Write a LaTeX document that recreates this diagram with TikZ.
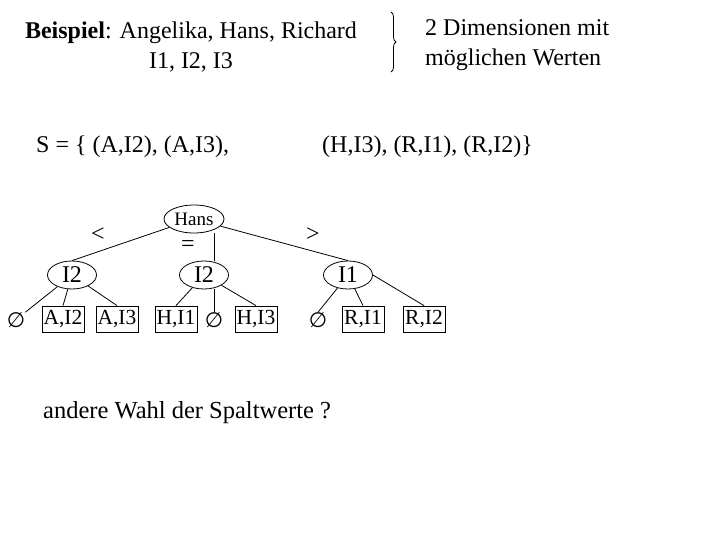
\documentclass[tikz,border=0pt]{standalone}
\usepackage{fontspec}
\setmainfont{Liberation Serif}
\newfontfamily\symfont{DejaVu Sans}
\usetikzlibrary{shapes.geometric,decorations.pathreplacing}
\begin{document}
\begin{tikzpicture}[x=1pt,y=-1pt,
  every node/.style={font=\fontsize{24}{30}\selectfont},
  inner/.style={ellipse,draw,line width=0.8pt,inner sep=0pt,minimum width=49pt,minimum height=28pt,font=\fontsize{24}{28}\selectfont},
  leaf/.style={draw,line width=0.8pt,rectangle,inner sep=0pt,minimum width=42pt,minimum height=26pt,font=\fontsize{21.5}{24}\selectfont},
  empty/.style={inner sep=0pt,font=\fontsize{21}{24}\symfont},
  edge/.style={draw,line width=0.8pt}]
\useasboundingbox (0,0) rectangle (720,540);
\node[align=center] (title) at (191,47) {\textbf{Beispiel}: Angelika, Hans, Richard\\I1, I2, I3};
\draw[line width=0.8pt,decorate,decoration={brace,amplitude=5pt}] (391,12) -- (391,72);
\node[anchor=west,align=left,inner sep=0pt] (dims) at (425,45) {2 Dimensionen mit\\möglichen Werten};
\node[anchor=west,inner sep=0pt] (sleft) at (36,147) {S = \{ (A,I2), (A,I3),};
\node[anchor=west,inner sep=0pt] (sright) at (322,147) {(H,I3), (R,I1), (R,I2)\}};
\node[inner,minimum width=60pt,font=\fontsize{19}{22}\selectfont] (hans) at (194,219) {Hans};
\node[inner] (a) at (72,275) {I2};
\node[inner] (h) at (204,275) {I2};
\node[inner] (r) at (348,275) {I1};
\node[leaf] (ai2) at (63,319) {A,I2};
\node[leaf] (ai3) at (117,319) {A,I3};
\node[leaf] (hi1) at (176,319) {H,I1};
\node[leaf] (hi3) at (256,319) {H,I3};
\node[leaf] (ri1) at (363,319) {R,I1};
\node[leaf] (ri2) at (424,319) {R,I2};
\node[empty] (e1) at (16,320) {∅};
\node[empty] (e2) at (214,320) {∅};
\node[empty] (e3) at (318,320) {∅};
\node (lt) at (98,235) {<};
\node (eq) at (188,246) {=};
\node (gt) at (313,235) {>};
\path[edge] (hans) -- (a.north);
\path[edge] (e2.north |- hans.south) -- (e2.north |- h.north);
\path[edge] (hans) -- (r.north);
\path[edge] (a) -- (e1.north east);
\path[edge] (a) -- (ai2.north);
\path[edge] (a) -- (ai3.north);
\path[edge] (h) -- (hi1.north);
\path[edge] (e2.north |- h.south) -- (e2.north);
\path[edge] (h) -- (hi3.north);
\path[edge] (r) -- (e3.north);
\path[edge] (r) -- (ri1.north);
\path[edge] (r.east) -- (ri2.north);
\node[anchor=west,inner sep=0pt] (q) at (43,413) {\fontsize{24.5}{30}\selectfont andere Wahl der Spaltwerte ?};
\end{tikzpicture}
\end{document}
